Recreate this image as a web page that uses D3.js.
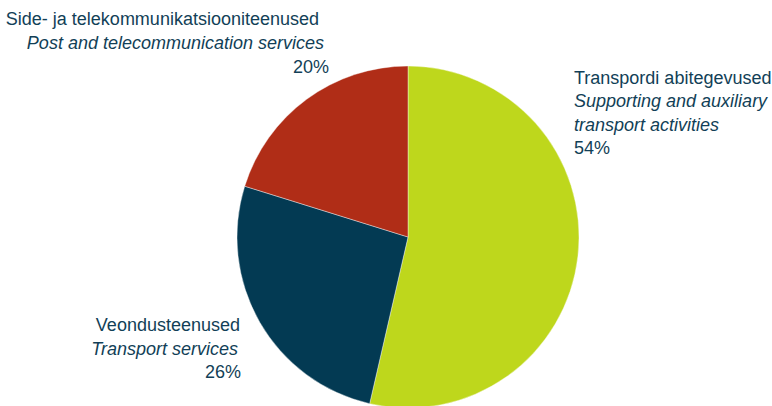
<!DOCTYPE html>
<html>
<head>
<meta charset="utf-8">
<script src="https://cdn.jsdelivr.net/npm/d3@7"></script>
<style>
  body { margin: 0; background: #fff; }
  text { font-family: "Liberation Sans", Arial, sans-serif; }
</style>
</head>
<body>
<div class="canvas"></div>
<script>
const categories = ['Transpordi abitegevused', 'Veondusteenused', 'Side- ja telekommunikatsiooniteenused']
const categoriesEn = [['Supporting and auxiliary', 'transport activities'], ['Transport services'], ['Post and telecommunication services']]
const shares = [53.6, 26.2, 20.2]
const shareLabels = ['54%', '26%', '20%']
const colors = ['#bed71c', '#033a53', '#b02d17']

const width = 772
const height = 406
const cx = 408, cy = 237, radius = 171
const textColor = '#123f57'

const svg = d3.select('.canvas')
    .append('svg')
    .attr('width', width)
    .attr('height', height)

const graph = svg.append('g')
    .attr('transform', `translate(${cx}, ${cy})`)

const pie = d3.pie().sort(null).value(d => d)
const arc = d3.arc().innerRadius(0).outerRadius(radius)

const slices = pie(shares)

graph.selectAll('path')
    .data(slices)
    .enter()
    .append('path')
    .attr('d', arc)
    .attr('fill', (d, i) => colors[i])
    .attr('stroke', '#fff')
    .attr('stroke-width', 0.4)

// label blocks: offset from pie centre, anchor, line x-shifts
const labelPos = [
    {x: 574 - cx, y: 84 - cy, anchor: 'start', dx: [0, 0, 0, 0], lh: 23.4},
    {x: 241 - cx, y: 331 - cy, anchor: 'end', dx: [-1, -3, 0], lh: 23.5},
    {x: 329 - cx, y: 24.5 - cy, anchor: 'end', dx: [-10, -5, 0], lh: 24}
]

slices.forEach((s, i) => {
    const p = labelPos[i]
    const lines = [{t: categories[i], it: false}]
    categoriesEn[i].forEach(t => lines.push({t: t, it: true}))
    lines.push({t: shareLabels[i], it: false})

    const g = graph.append('g')
        .attr('transform', `translate(${p.x}, ${p.y})`)

    g.selectAll('text')
        .data(lines)
        .enter()
        .append('text')
        .attr('x', (d, j) => p.dx[j])
        .attr('y', (d, j) => j * p.lh)
        .attr('text-anchor', p.anchor)
        .attr('font-size', 18)
        .attr('font-style', d => d.it ? 'italic' : 'normal')
        .attr('fill', textColor)
        .text(d => d.t)
})
</script>
</body>
</html>
